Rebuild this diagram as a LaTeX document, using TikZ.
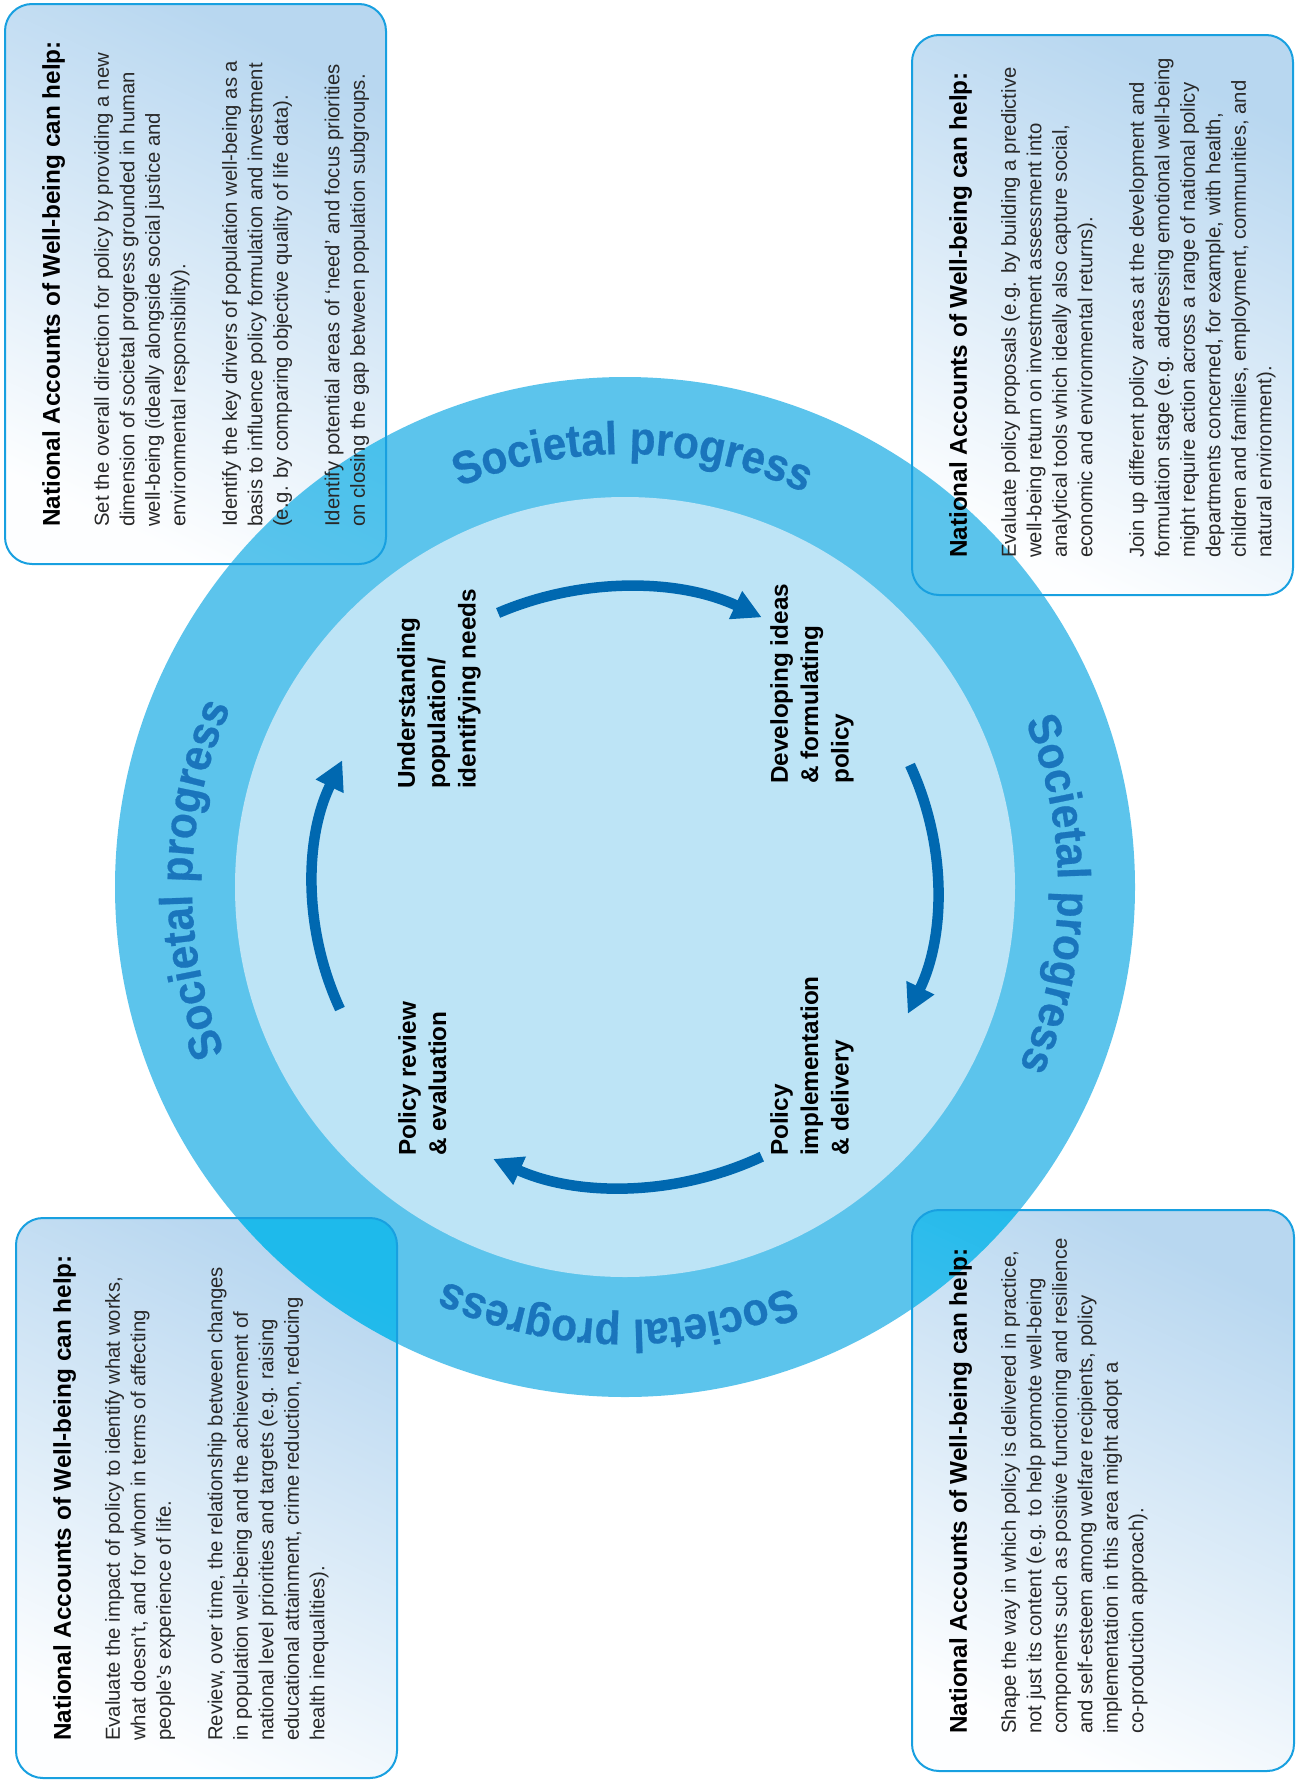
\documentclass[tikz,border=0pt]{standalone}
\usepackage{fontspec}
\setmainfont{Liberation Sans}
\newfontfamily\spfamily{Liberation Sans Bold}[FakeStretch=0.92,FakeBold=0.6]
\usetikzlibrary{arrows.meta,decorations.text}
\definecolor{ringblue}{RGB}{92,196,236}
\definecolor{innerblue}{RGB}{189,228,246}
\definecolor{arrowblue}{RGB}{0,104,176}
\definecolor{spblue}{RGB}{26,117,188}
\definecolor{boxline}{RGB}{24,160,224}
\definecolor{boxtop}{RGB}{184,215,240}
\definecolor{boxbot}{RGB}{253,254,255}
\definecolor{bodytext}{RGB}{40,40,40}
\newcommand{\bodyfnt}{\fontsize{20.3}{25.5}\selectfont}
\newcommand{\titlefnt}{\fontsize{24.3}{25.5}\selectfont\bfseries}
\newcommand{\stagefnt}{\fontsize{24.3}{30.4}\selectfont\bfseries}
\newcommand{\spfnt}{\spfamily\fontsize{46}{46}\selectfont}
\begin{document}
\begin{tikzpicture}[x=1pt,y=1pt,
  boxfill/.style={top color=boxtop,bottom color=boxbot,shading angle=-25,rounded corners=27pt},
  boxedge/.style={draw=boxline,line width=2pt,rounded corners=27pt},
  boxtext/.style={rotate=90,anchor=north west,inner sep=0pt,align=left,font=\bodyfnt,text=bodytext},
  stage/.style={rotate=90,anchor=north west,inner sep=0pt,align=left,font=\stagefnt,text=black},
  cyc/.style={draw=arrowblue,line width=10.5pt,-{Triangle[length=29pt,width=29pt]}},
  sp/.style={decorate,decoration={text along path,text align=center,text={|\spfnt\color{spblue}|Societal progress}}}
]
\useasboundingbox (0,0) rectangle (1303,-1780);
\coordinate (c) at (625,-887);
% circles
\fill[ringblue] (c) circle[radius=510];
\fill[innerblue] (c) circle[radius=390];
% boxes (fill, burned over circle)
\begin{scope}[blend mode=color burn]
\shade[boxfill] (5,-4) rectangle (386,-564);
\shade[boxfill] (912,-35) rectangle (1293,-595);
\shade[boxfill] (16,-1218) rectangle (397,-1778);
\shade[boxfill] (912,-1210) rectangle (1294,-1771);
\end{scope}
\draw[boxedge] (5,-4) rectangle (386,-564);
\draw[boxedge] (912,-35) rectangle (1293,-595);
\draw[boxedge] (16,-1218) rectangle (397,-1778);
\draw[boxedge] (912,-1210) rectangle (1294,-1771);
% cycle arrows
\draw[cyc] (c) ++(114:312 and 300) arc[start angle=114,end angle=64,x radius=312,y radius=300];
\draw[cyc] (c) ++(24:312 and 300) arc[start angle=24,end angle=-25,x radius=312,y radius=300];
\draw[cyc] (c) ++(-64:312 and 300) arc[start angle=-64,end angle=-115,x radius=312,y radius=300];
\draw[cyc] (c) ++(204:312 and 300) arc[start angle=204,end angle=155,x radius=312,y radius=300];
% stage labels
\node[stage] (s1) at (397,-789) {Understanding\\population/\\identifying needs};
\node[stage] (s2) at (770,-784) {Developing ideas\\\& formulating\\policy};
\node[stage] (s3) at (398,-1156) {Policy review\\\& evaluation};
\node[stage] (s4) at (770,-1156) {Policy\\implementation\\\& delivery};
% societal progress
\path[sp] (c) ++(134:433) arc[start angle=134,end angle=44,radius=433];
\path[sp] (c) ++(44:433) arc[start angle=44,end angle=-46,radius=433];
\path[sp] (c) ++(-46:433) arc[start angle=-46,end angle=-136,radius=433];
\path[sp] (c) ++(-136:433) arc[start angle=-136,end angle=-226,radius=433];
% box texts
\node[boxtext] (t1) at (42,-527) {{\titlefnt\color{black}National Accounts of Well-being can help:}\\[23.5pt]
Set the overall direction for policy by providing a new\\
dimension of societal progress grounded in human\\
well-being (ideally alongside social justice and\\
environmental responsibility).\\[26pt]
Identify the key drivers of population well-being as a\\
basis to influence policy formulation and investment\\
(e.g. by comparing objective quality of life data).\\[26pt]
Identify potential areas of ‘need’ and focus priorities\\
on closing the gap between population subgroups.};
\node[boxtext] (t2) at (949,-558) {{\titlefnt\color{black}National Accounts of Well-being can help:}\\[23.5pt]
Evaluate policy proposals (e.g. by building a predictive\\
well-being return on investment assessment into\\
analytical tools which ideally also capture social,\\
economic and environmental returns).\\[26pt]
Join up different policy areas at the development and\\
formulation stage (e.g. addressing emotional well-being\\
might require action across a range of national policy\\
departments concerned, for example, with health,\\
children and families, employment, communities, and\\
natural environment).};
\node[boxtext] (t3) at (53,-1741) {{\titlefnt\color{black}National Accounts of Well-being can help:}\\[23.5pt]
Evaluate the impact of policy to identify what works,\\
what doesn’t, and for whom in terms of affecting\\
people’s experience of life.\\[26pt]
Review, over time, the relationship between changes\\
in population well-being and the achievement of\\
national level priorities and targets (e.g. raising\\
educational attainment, crime reduction, reducing\\
health inequalities).};
\node[boxtext] (t4) at (949,-1734) {{\titlefnt\color{black}National Accounts of Well-being can help:}\\[23.5pt]
Shape the way in which policy is delivered in practice,\\
not just its content (e.g. to help promote well-being\\
components such as positive functioning and resilience\\
and self-esteem among welfare recipients, policy\\
implementation in this area might adopt a\\
co-production approach).};
\end{tikzpicture}
\end{document}
